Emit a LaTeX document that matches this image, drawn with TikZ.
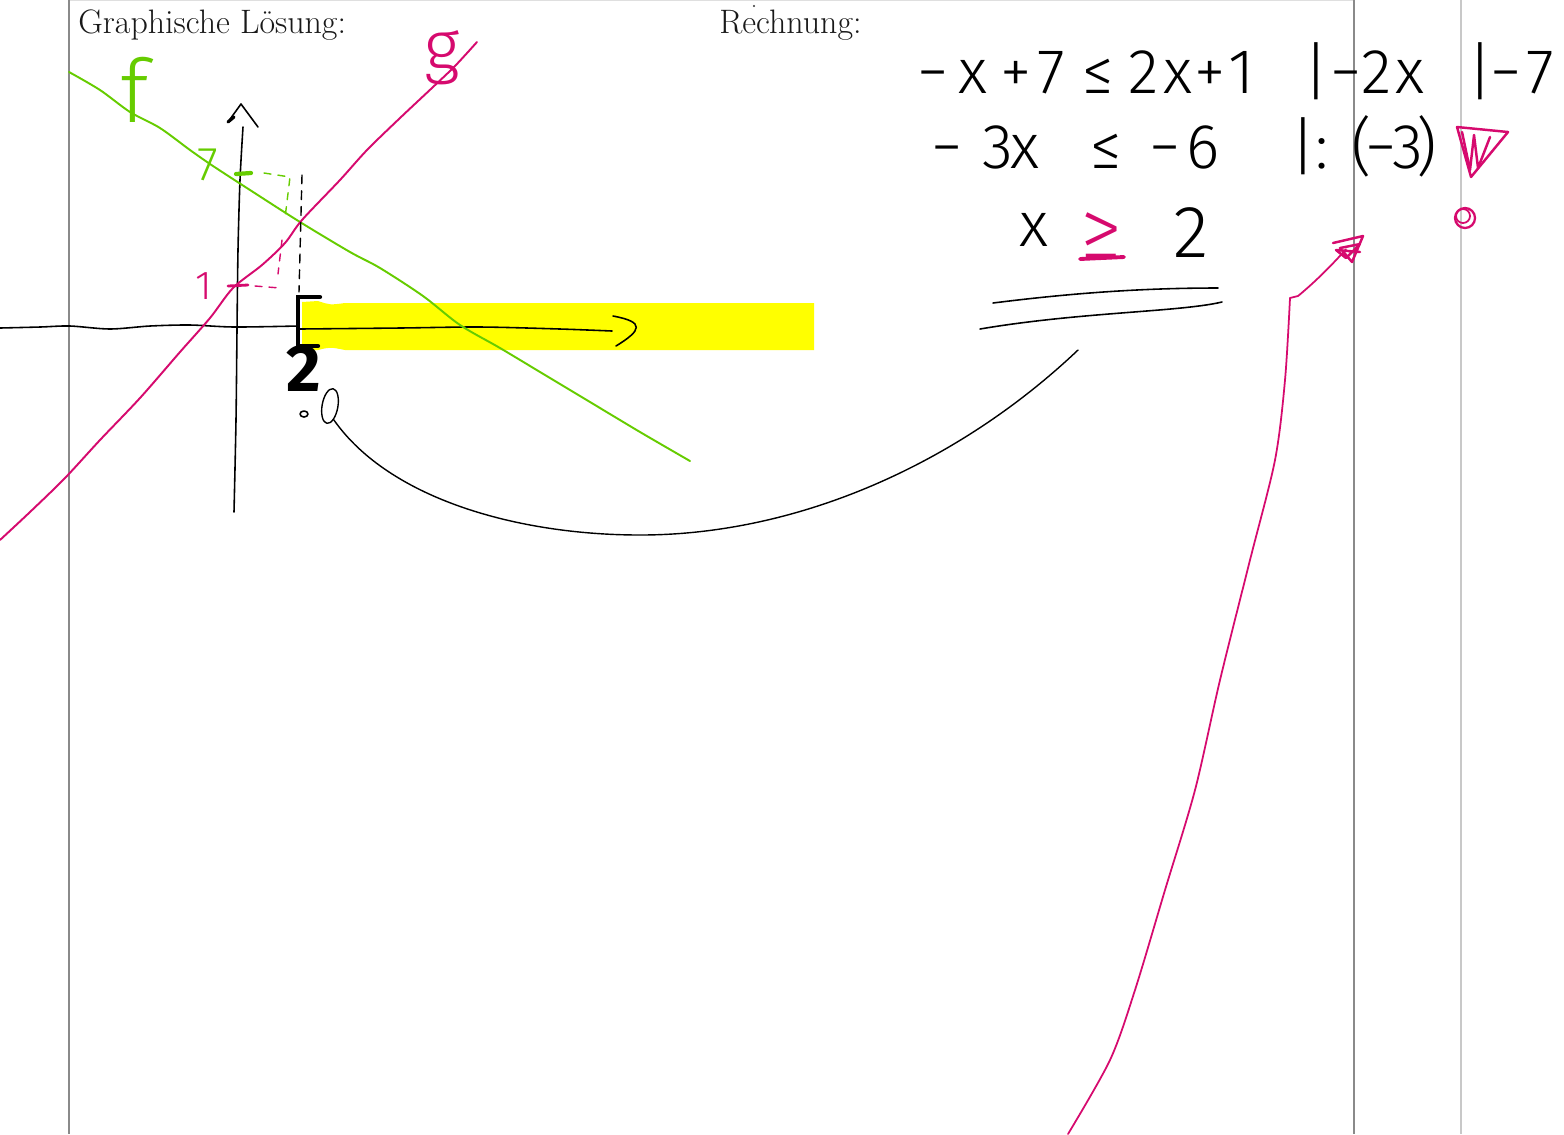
\documentclass[tikz,border=0pt]{standalone}
\usepackage{fontspec}
\IfFontExistsTF{Fira Sans Light}{\newfontfamily\hand{Fira Sans Light}}{\newfontfamily\hand{Fira Sans}}
\newfontfamily\handbf{Fira Sans}
\usetikzlibrary{shapes.geometric}
\definecolor{fgreen}{RGB}{102,204,0}
\definecolor{gpink}{RGB}{214,10,110}
\definecolor{hyellow}{RGB}{255,255,0}
\definecolor{rulegray}{RGB}{138,138,138}
\definecolor{lightrule}{RGB}{200,200,200}
\tikzset{
  stroke/.style={line width=1.1pt, line cap=round, line join=round},
  thinstroke/.style={line width=0.8pt, line cap=round, line join=round},
  eqchar/.style={anchor=base, inner sep=0pt, font=\hand\fontsize{36}{40}\selectfont},
  headtext/.style={anchor=base west, inner sep=0pt, font=\fontsize{19.3}{22}\selectfont, text=black!90},
  lbl/.style={inner sep=0pt, font=\hand\fontsize{#1}{#1}\selectfont},
}
\begin{document}
\begin{tikzpicture}[x=0.02cm,y=-0.02cm]
\useasboundingbox (0,0) rectangle (1564,1134);
\fill[white] (0,0) rectangle (1564,1134);

% page rules
\draw[gray!25, line width=0.6pt] (69,0.5) -- (1354,0.5);
\draw[rulegray, line width=1.1pt] (69,0) -- (69,1134);
\draw[rulegray, line width=1.1pt] (1354,0) -- (1354,1134);
\draw[lightrule, line width=1.6pt] (1461,0) -- (1461,1134);

% headings
\node[headtext] (hgraph) at (78,33) {Graphische Lösung:};
\node[headtext] (hcalc) at (719,33) {Rechnung:};
\fill[black!80] (754,6) circle (1.2);

% yellow solution band
\fill[hyellow] (302,302) -- (318,301) .. controls (330,305) .. (345,303) -- (814,303) -- (814,350)
  -- (345,350) .. controls (330,347) .. (318,350) -- (302,350) -- cycle;

% x axis
\draw[stroke, line width=0.9pt] plot[smooth] coordinates {(0,328) (40,327) (70,326) (110,329) (150,326) (190,325) (234,327) (298,326)};
\draw[stroke, line width=0.9pt] plot[smooth] coordinates {(300,329) (400,328) (480,327) (560,329) (612,331)};
\draw[stroke, line width=0.9pt] (613,316) .. controls (645,322) and (642,330) .. (616,346);

% y axis
\draw[stroke, line width=0.9pt] plot[smooth] coordinates {(234,512) (236,420) (237,330) (238,250) (240,180) (243,127)};
\draw[stroke, line width=0.9pt] (228,122) -- (241,104) -- (258,127);
\draw[stroke, line width=1.8pt] (228,122) -- (234,117);

% line f (green)
\draw[fgreen, stroke] plot[smooth] coordinates {(69,72) (100,90) (130,112) (160,128) (190,150) (213,166) (250,190) (300,222) (350,252) (380,268) (423,296) (460,325) (500,348) (545,375) (590,402) (640,432) (690,461)};
% line g (pink)
\draw[gpink, stroke] plot[smooth] coordinates {(0,540) (30,512) (65,478) (100,440) (140,398) (180,352) (210,318) (233,288) (262,265) (285,243) (302,220) (340,180) (367,150) (400,118) (433,87) (455,66) (477,42)};

% labels
\node[lbl=50, text=fgreen] (flabel) at (135,90) {f};
\node[lbl=40, text=gpink] (glabel) at (442,58) {g};
\node[lbl=27, text=fgreen] (sevenlabel) at (208,165) {7};
\node[lbl=23, text=gpink] (onelabel) at (204,286) {1};

% ticks on y axis
\draw[fgreen, line width=2.4pt, line cap=round] (236,174) -- (251,173);
\draw[gpink, stroke, line width=1.6pt] (228,286) -- (248,285);

% helper dashed lines
\draw[fgreen, stroke, line width=0.8pt, dash pattern=on 4pt off 4pt] (264,173) -- (290,177) -- (285,218);
\draw[gpink, stroke, line width=0.8pt, dash pattern=on 4pt off 4pt] (255,286) -- (280,288);
\draw[gpink, stroke, line width=0.8pt, dash pattern=on 4pt off 4pt] (282,240) -- (278,274);
\draw[stroke, line width=0.8pt, dash pattern=on 5pt off 4pt] (302,175) -- (299,292);

% bracket [
\draw[line width=2.4pt, line cap=round, line join=miter] (320,297) -- (298,297) -- (298,346) -- (318,346);

% the 2 under the bracket
\node[inner sep=0pt, font=\handbf\bfseries\fontsize{38}{38}\selectfont] (two) at (304,368) {2};
\draw[stroke, line width=0.9pt] (304,414) ellipse (4 and 3);
\node[draw, ellipse, thinstroke, minimum width=9, minimum height=20, inner sep=0pt, rotate=-10] (loop) at (330,406) {};

% curved arrow from the result to the graph
\coordinate (arrStart) at (1078,350);
\draw[thinstroke] (arrStart) .. controls (960,462) and (800,535) .. (640,535)
   .. controls (520,535) and (390,500) .. (loop.south east);

% calculation, row 1
\foreach \cx/\ch [count=\i] in {933/−, 973/x, 1016/+, 1051/7, 1098/≤, 1144/2, 1178/x, 1210/+, 1242/1, 1316/|, 1346/−, 1377/2, 1410/x, 1480/|, 1506/−, 1540/7}
  \node[eqchar] (ra\i) at (\cx,93) {\ch};
% row 2
\foreach \cx/\ch [count=\i] in {947/−, 998/3, 1025/x, 1106/≤, 1165/−, 1203/6, 1303/|, 1322/:, 1362/(, 1381/−, 1408/3, 1427/)}
  \node[eqchar] (rb\i) at (\cx,168) {\ch};
% row 3
\node[eqchar] (rc1) at (1034,246) {x};
\node[eqchar, text=gpink, font=\hand\fontsize{48}{50}\selectfont] (rc2) at (1101,258) {≥};
\draw[gpink, line width=2.2pt, line cap=round] (1080,259) -- (1124,257);
\node[eqchar, font=\hand\fontsize{42}{44}\selectfont] (rc3) at (1191,257) {2};

% double underline
\draw[stroke, line width=0.9pt] (993,303) .. controls (1080,292) and (1150,288) .. (1218,288);
\draw[stroke, line width=0.9pt] (980,329) .. controls (1080,312) and (1180,312) .. (1222,302);

% exclamation (pink)
\draw[gpink, stroke, line width=1.4pt] (1457,127) -- (1508,132) -- (1471,177) -- cycle;
\draw[gpink, stroke, line width=1.4pt] (1462,132) -- (1470,170) -- (1474,135) -- (1478,168) -- (1490,137);
\draw[gpink, stroke, line width=1.3pt] (1465,218) circle (10);
\draw[gpink, stroke, line width=1pt] (1463,216) circle (7);

% long pink arrow
\node[inner sep=0pt, minimum size=1pt] (scribble) at (1347,248) {};
\draw[gpink, stroke, line width=1pt] plot[smooth] coordinates {(1068,1134) (1110,1060) (1135,990) (1165,890) (1195,790) (1220,680) (1250,560) (1275,460) (1285,380) (1290,298)};
\draw[gpink, stroke, line width=1pt] (1290,298) -- (1298,296) .. controls (1315,282) and (1332,265) .. (scribble);
\draw[gpink, stroke, line width=1.4pt] (1333,243) -- (1363,236) -- (1352,262) -- (1340,248) -- (1360,244) -- (1346,258) -- (1336,250) -- (1360,252);
\end{tikzpicture}
\end{document}
